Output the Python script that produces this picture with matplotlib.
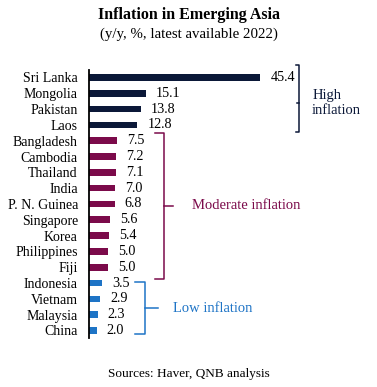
import matplotlib
matplotlib.use('Agg')
import matplotlib.pyplot as plt

plt.rcParams['font.family'] = ['Liberation Serif', 'DejaVu Serif']

countries = ['Sri Lanka', 'Mongolia', 'Pakistan', 'Laos',
             'Bangladesh', 'Cambodia', 'Thailand', 'India', 'P. N. Guinea',
             'Singapore', 'Korea', 'Philippines', 'Fiji',
             'Indonesia', 'Vietnam', 'Malaysia', 'China']
values = [45.4, 15.1, 13.8, 12.8,
          7.5, 7.2, 7.1, 7.0, 6.8, 5.6, 5.4, 5.0, 5.0,
          3.5, 2.9, 2.3, 2.0]
groups = ['High'] * 4 + ['Moderate'] * 9 + ['Low'] * 4

colors = {'High': '#0b1838', 'Moderate': '#7b0a4a', 'Low': '#1e74c6'}
group_text = {'High': 'High\ninflation', 'Moderate': 'Moderate inflation',
              'Low': 'Low inflation'}
# bracket x, text x, top pad, bottom pad, hook length, nib length (data units)
bracket = {'High': (55.7, 59.2, 0.77, 0.45, -0.8, -0.6),
           'Moderate': (19.9, 27.4, 0.49, 0.73, -2.4, 2.4),
           'Low': (14.9, 22.2, 0.04, 0.24, -2.6, 3.4)}

fig = plt.figure(figsize=(3.77, 3.87), dpi=100)
ax = fig.add_axes([89 / 377, 0.1256, 278 / 377, 0.6946])

ypos = list(range(len(countries)))
ax.barh(ypos, values, height=0.42, color=[colors[g] for g in groups])
for y, v in zip(ypos, values):
    ax.text(v + 2.7, y, f'{v:.1f}', va='center', ha='left', fontsize=10.2)

ax.set_xlim(0, 278 / 3.77)
ax.set_ylim(len(countries) - 0.5, -0.5)
ax.set_yticks(ypos)
ax.set_yticklabels(countries, fontsize=10)
ax.tick_params(axis='y', length=0, pad=8)
ax.set_xticks([])
for s in ['top', 'right', 'bottom']:
    ax.spines[s].set_visible(False)
ax.spines['left'].set_linewidth(1.3)

for g in ['High', 'Moderate', 'Low']:
    rows = [i for i, gg in enumerate(groups) if gg == g]
    bx, tx, pt, pb, hook, nib = bracket[g]
    top, bot = rows[0] - pt, rows[-1] + pb
    mid = (rows[0] + rows[-1]) / 2 + 0.1
    c = colors[g]
    ax.plot([bx + hook, bx, bx, bx + hook], [top, top, bot, bot],
            color=c, lw=1.1, clip_on=False)
    ax.plot([bx, bx + nib], [mid, mid], color=c, lw=1.1, clip_on=False)
    ax.text(tx, mid, group_text[g], color=c, fontsize=10.5, va='center',
            ha='left', linespacing=1.2)

fig.text(0.5, 1 - 15 / 387, 'Inflation in Emerging Asia', ha='center',
         va='center', fontsize=11.5, fontweight='bold')
fig.text(0.5, 1 - 34 / 387, '(y/y, %, latest available 2022)', ha='center',
         va='center', fontsize=10.7)
fig.text(0.5, 1 - 374 / 387, 'Sources: Haver, QNB analysis', ha='center',
         va='center', fontsize=9.5)

fig.savefig('out.png', dpi=100)
